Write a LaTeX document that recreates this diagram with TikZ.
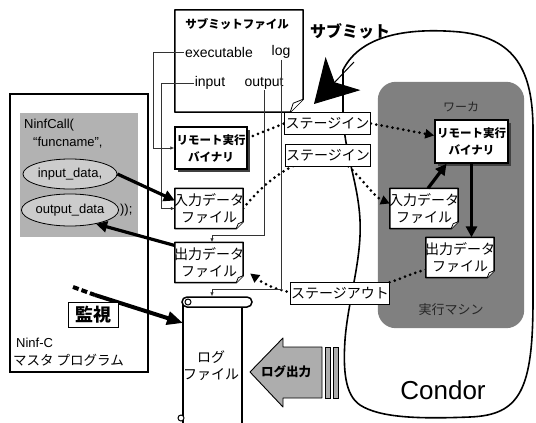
\documentclass[tikz,border=0pt]{standalone}
\usepackage{fontspec}
\setmainfont{Liberation Sans}
\newfontfamily\jp{Noto Sans CJK JP}
\usetikzlibrary{arrows.meta,shapes.geometric,shadows,positioning,calc}

\pgfdeclarelayer{back}
\pgfsetlayers{back,main}

\tikzset{
  every node/.style={inner sep=1pt},
  latin/.style={font=\fontsize{13}{15}\selectfont},
  keytext/.style={font=\fontsize{14}{16}\selectfont},
  jptext/.style={font=\jp\fontsize{14}{17}\selectfont, align=center},
  binbox/.style={draw, line width=1.5pt, fill=white, align=center,
    minimum width=72pt, minimum height=42pt,
    font=\jp\bfseries\fontsize{11.5}{17}\selectfont,
    drop shadow={shadow xshift=3pt, shadow yshift=-3pt, fill=black!75, opacity=1}},
  filebox/.style={minimum width=68pt, minimum height=40pt},
  fileline/.style={line width=1.5pt, line join=round},
  stagebox/.style={draw, line width=1pt, fill=white, minimum height=22pt,
    font=\jp\fontsize{14}{16}\selectfont},
  thinlink/.style={line width=0.7pt, draw=black!80, -{Latex[length=4pt,width=3.5pt]}},
  dotlink/.style={line width=3pt, dash pattern=on 0pt off 5.5pt, line cap=round},
  thicklink/.style={line width=3.2pt, -{Triangle[length=11pt,width=11pt]}},
}

% file with a folded corner: name, centre, text
\newcommand{\datafile}[3]{%
  \node[filebox] (#1) at (#2) {};
  \filldraw[fileline, fill=white] (#1.north west) -- (#1.north east)
    -- ([yshift=7pt]#1.south east) -- ([xshift=-7pt]#1.south east)
    -- (#1.south west) -- cycle;
  \filldraw[line width=0.8pt, fill=white] ([yshift=7pt]#1.south east)
    -- ([shift={(-5pt,5pt)}]#1.south east) -- ([xshift=-7pt]#1.south east);
  \node[jptext] at (#1) {#3};
}

\begin{document}
\begin{tikzpicture}[x=1pt, y=-1pt]
  \useasboundingbox (0,0) rectangle (536,423);

  % Ninf-C master program
  \node[draw, line width=1.8pt, minimum width=138pt, minimum height=278pt] (ninf) at (79,233) {};
  \node[fill=black!30, minimum width=118pt, minimum height=124pt] (callarea) at (79,175) {};
  \node[latin, anchor=west] (callname) at (23,125) {NinfCall(};
  \node[latin, anchor=west] (funcname) at (32,143) {``funcname'',};
  \node[latin, ellipse, draw, line width=0.8pt, fill=black!20, minimum width=94pt, minimum height=30pt, inner sep=0pt] (inEll) at (70,174) {input\_data,};
  \node[latin, ellipse, draw, line width=0.8pt, fill=black!20, minimum width=94pt, minimum height=32pt, inner sep=0pt] (outEll) at (70,210) {output\_data};
  \node[latin, right=0pt of outEll] (callend) {));};
  \node[latin, anchor=west] (ninfname) at (15,343) {Ninf-C};
  \node[jptext, anchor=west, font=\jp\fontsize{13.5}{15}\selectfont] (ninfrole) at (12,360) {マスタ プログラム};

  % watching the log
  \coordinate (watchtail) at (73,287);
  \coordinate (watchmid) at (95,295);
  \coordinate (logedge) at (183,323);
  \draw[line width=4pt, dash pattern=on 6pt off 3pt] (watchtail) -- (watchmid);
  \draw[line width=4pt, -{Triangle[length=16pt,width=13pt]}] (watchmid) -- (logedge);
  \node[draw, line width=1pt, fill=white, minimum width=50pt, minimum height=25pt,
    font=\jp\bfseries\fontsize{18}{20}\selectfont] (watch) at (93,315) {監視};

  % submit file
  \node[minimum width=128pt, minimum height=102pt] (subfile) at (239,61) {};
  \filldraw[fileline, fill=white] (subfile.north west) -- (subfile.north east)
    -- ([yshift=13pt]subfile.south east) -- ([xshift=-13pt]subfile.south east)
    -- (subfile.south west) -- cycle;
  \filldraw[line width=0.8pt, fill=white] ([yshift=13pt]subfile.south east)
    -- ([shift={(-10pt,9pt)}]subfile.south east) -- ([xshift=-13pt]subfile.south east);
  \node[jptext, font=\jp\bfseries\fontsize{11.5}{13}\selectfont] (subtitle) at (237,24) {サブミットファイル};
  \node[keytext] (exe) at (219,52) {executable};
  \node[keytext] (logkey) at (281,52) {log};
  \node[keytext] (inkey) at (210,83) {input};
  \node[keytext] (outkey) at (264,83) {output};

  % files on the master side
  \node[binbox] (remL) at (211,148) {リモート実行\\バイナリ};
  \datafile{inL}{209,208.5}{入力データ\\ファイル}
  \datafile{outL}{209,262.5}{出力データ\\ファイル}

  % Condor pool and worker
  \node[minimum width=146pt, minimum height=246pt] (worker) at (451,205) {};
  \node[jptext, text=black!85, font=\jp\fontsize{12}{14}\selectfont] (workername) at (461,107) {ワーカ};
  \node[jptext, text=black!85, font=\jp\fontsize{13}{15}\selectfont] (machine) at (451,310) {実行マシン};
  \node[binbox, minimum width=73pt, minimum height=43pt] (remR) at (471.5,141.5) {リモート実行\\バイナリ};
  \datafile{inR}{424,208.5}{入力データ\\ファイル}
  \datafile{outR}{460,257.5}{出力データ\\ファイル}

  % stage labels
  \node[stagebox, minimum width=85pt] (stagein1) at (327.5,123.5) {ステージイン};
  \node[stagebox, minimum width=80pt] (stagein2) at (328,155) {ステージイン};
  \node[stagebox, minimum width=96pt] (stageout) at (340,293.5) {ステージアウト};

  \begin{pgfonlayer}{back}
    \draw[line width=1.6pt] (343,70) .. controls (362,32) and (415,28) .. (460,32)
      .. controls (515,38) and (533,70) .. (533,130) -- (533,300)
      .. controls (533,390) and (520,415) .. (470,417)
      .. controls (420,419) and (380,418) .. (360,405)
      .. controls (345,395) and (343,370) .. (345,340)
      .. controls (348,300) and (362,260) .. (360,220)
      .. controls (358,180) and (343,150) .. (343,110) -- cycle;
    \fill[black!50, rounded corners=18pt] (worker.north west) rectangle (worker.south east);
    \draw[dotlink] ([yshift=10pt]remL.east) -- (stagein1.west);
    \draw[dotlink, -{Triangle[length=9pt,width=9pt]}] (stagein1.east) -- ([yshift=6pt]remR.west);
    \draw[dotlink, -{Triangle[length=9pt,width=9pt]}] (inL.east)
      .. controls (262,185) and (290,160) .. (stagein2.center)
      .. controls (350,158) and (370,195) .. ([yshift=5pt]inR.west);
    \draw[dotlink, -{Triangle[length=9pt,width=9pt]}] ([yshift=-12pt]outR.west)
      .. controls (405,275) and (380,290) .. (stageout.center)
      .. controls (300,298) and (272,290) .. ([shift={(7pt,-11pt)}]outL.east);
  \end{pgfonlayer}

  % submit file entries
  \draw[thinlink] (exe.west) -- ++(-31,0) |- (remL.west);
  \draw[thinlink] (inkey.west) -- ++(-32,0) |- (inL.west);
  \draw[thinlink] (outkey.south) -- ++(0,145) -| ([xshift=3pt]outL.north);

  % data passing
  \draw[thicklink] (inEll.east) -- ([yshift=8pt]inL.west);
  \draw[thicklink] ([yshift=17pt]outL.west) -- (outEll.-28);
  \draw[thicklink] ([xshift=4pt]inR.north) -- ([xshift=-25pt]remR.south);
  \draw[thicklink] (remR.south) -- (remR.south |- outR.north);

  % submit
  \coordinate (submittail) at (354,62);
  \coordinate (submittip) at (314,104);
  \draw[line width=1pt, -{Stealth[length=42pt,width=48pt,inset=12pt]}] (submittail) -- (submittip);
  \node[jptext, font=\jp\bfseries\fontsize{16}{18}\selectfont] (submitlabel) at (350,31) {サブミット};

  % log file
  \draw[line width=1.5pt] (183,302) -- (183,430);
  \draw[line width=1.5pt] (242,307) -- (242,430);
  \draw[line width=1pt, fill=white] (181,418) circle (3pt);
  \node[draw, line width=1.5pt, fill=white, rounded corners=5pt, minimum width=70pt, minimum height=10pt, inner sep=0pt] (logroll) at (217,302) {};
  \draw[line width=1pt] (188,302) circle (3pt);
  \node[jptext] (logbody) at (211,366) {ログ\\ファイル};
  \draw[thinlink] (logkey.south) -- ++(0,230) -| ([xshift=-5pt]logroll.north);

  % log output
  \filldraw[fill=black!32, line width=0.9pt, line join=round] (250,372) -- (283,338) -- (283,347)
    -- (322,347) -- (322,398) -- (283,398) -- (283,407) -- cycle;
  \filldraw[fill=black!32, line width=0.8pt] (325,347) rectangle (330,398);
  \filldraw[fill=black!32, line width=0.8pt] (333,347) rectangle (338,398);
  \node[jptext, font=\jp\bfseries\fontsize{12.5}{14}\selectfont] (logout) at (286,372) {ログ出力};

  \node[font=\fontsize{26}{30}\selectfont] (condor) at (443,390) {Condor};
\end{tikzpicture}
\end{document}
